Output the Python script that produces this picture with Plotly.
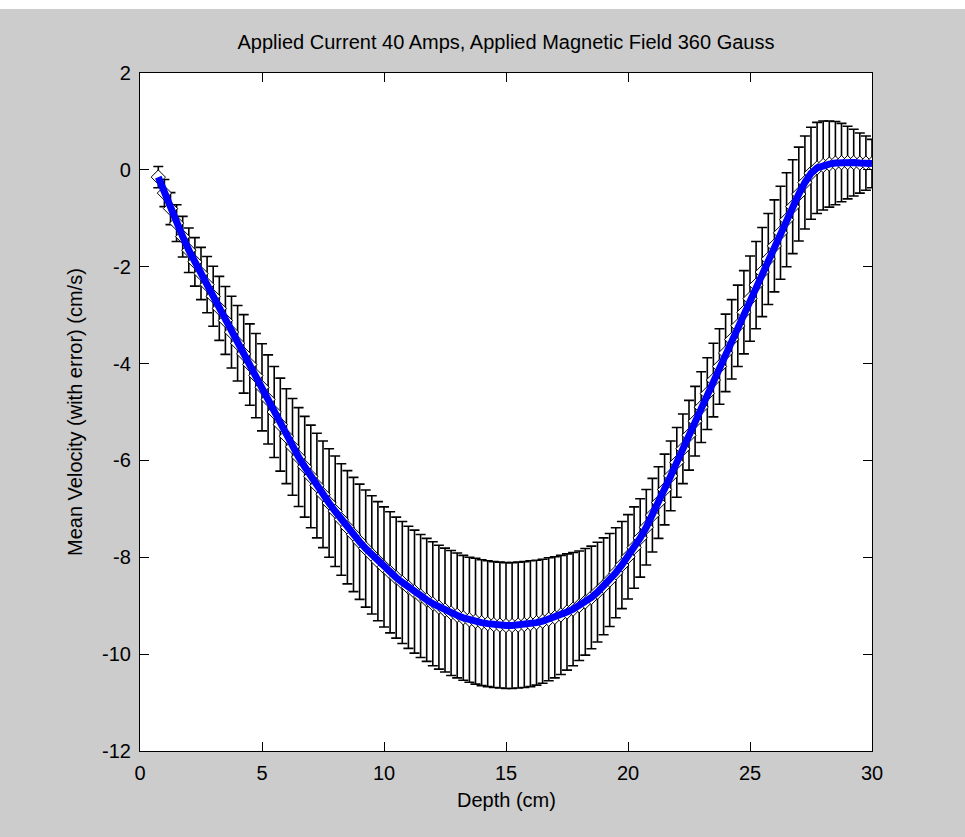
import plotly.graph_objects as go

depth = [0.75,
    1.00, 1.25, 1.50, 1.75, 2.00, 2.25, 2.50, 2.75, 3.00, 3.25, 3.50, 3.75,
    4.00, 4.25, 4.50, 4.75, 5.00, 5.25, 5.50, 5.75, 6.00, 6.25, 6.50, 6.75,
    7.00, 7.25, 7.50, 7.75, 8.00, 8.25, 8.50, 8.75, 9.00, 9.25, 9.50, 9.75,
    10.00, 10.25, 10.50, 10.75, 11.00, 11.25, 11.50, 11.75, 12.00, 12.25, 12.50, 12.75,
    13.00, 13.25, 13.50, 13.75, 14.00, 14.25, 14.50, 14.75, 15.00, 15.25, 15.50, 15.75,
    16.00, 16.25, 16.50, 16.75, 17.00, 17.25, 17.50, 17.75, 18.00, 18.25, 18.50, 18.75,
    19.00, 19.25, 19.50, 19.75, 20.00, 20.25, 20.50, 20.75, 21.00, 21.25, 21.50, 21.75,
    22.00, 22.25, 22.50, 22.75, 23.00, 23.25, 23.50, 23.75, 24.00, 24.25, 24.50, 24.75,
    25.00, 25.25, 25.50, 25.75, 26.00, 26.25, 26.50, 26.75, 27.00, 27.25, 27.50, 27.75,
    28.00, 28.25, 28.50, 28.75, 29.00, 29.25, 29.50, 29.75, 30.00]

mean_velocity = [-0.15,
    -0.48, -0.80, -1.10, -1.38, -1.66, -1.90, -2.14, -2.37, -2.61, -2.86, -3.11, -3.35,
    -3.58, -3.80, -4.02, -4.25, -4.49, -4.74, -5.00, -5.26, -5.50, -5.72, -5.93, -6.13,
    -6.33, -6.52, -6.70, -6.88, -7.05, -7.22, -7.38, -7.53, -7.68, -7.82, -7.95, -8.08,
    -8.20, -8.31, -8.42, -8.52, -8.62, -8.71, -8.80, -8.88, -8.96, -9.03, -9.09, -9.15,
    -9.20, -9.25, -9.29, -9.32, -9.35, -9.37, -9.39, -9.40, -9.41, -9.41, -9.40, -9.39,
    -9.37, -9.35, -9.32, -9.28, -9.24, -9.19, -9.13, -9.07, -9.00, -8.92, -8.83, -8.72,
    -8.60, -8.47, -8.32, -8.16, -7.99, -7.80, -7.60, -7.38, -7.13, -6.87, -6.60, -6.32,
    -6.04, -5.76, -5.48, -5.19, -4.90, -4.62, -4.34, -4.06, -3.78, -3.50, -3.22, -2.94,
    -2.66, -2.38, -2.11, -1.84, -1.57, -1.30, -1.03, -0.76, -0.50, -0.26, -0.07, 0.04,
    0.09, 0.12, 0.14, 0.15, 0.15, 0.15, 0.14, 0.14, 0.13]

velocity_error = [0.22,
    0.28, 0.33, 0.38, 0.42, 0.46, 0.50, 0.54, 0.58, 0.62, 0.66, 0.70, 0.74,
    0.78, 0.81, 0.84, 0.87, 0.90, 0.92, 0.94, 0.96, 0.98, 1.00, 1.02, 1.04,
    1.06, 1.08, 1.10, 1.12, 1.14, 1.15, 1.17, 1.18, 1.19, 1.21, 1.22, 1.23,
    1.24, 1.25, 1.25, 1.26, 1.26, 1.27, 1.27, 1.27, 1.28, 1.28, 1.28, 1.29,
    1.29, 1.29, 1.29, 1.30, 1.30, 1.30, 1.30, 1.30, 1.30, 1.30, 1.30, 1.30,
    1.30, 1.29, 1.28, 1.27, 1.25, 1.23, 1.20, 1.17, 1.13, 1.10, 1.06, 1.03,
    1.00, 0.96, 0.93, 0.90, 0.87, 0.84, 0.81, 0.78, 0.76, 0.74, 0.73, 0.72,
    0.72, 0.72, 0.72, 0.72, 0.73, 0.74, 0.76, 0.78, 0.80, 0.82, 0.84, 0.86,
    0.88, 0.90, 0.92, 0.94, 0.95, 0.96, 0.97, 0.97, 0.97, 0.96, 0.95, 0.94,
    0.92, 0.89, 0.86, 0.81, 0.75, 0.69, 0.62, 0.56, 0.50]

x_ticks = [0, 5, 10, 15, 20, 25, 30]
x_tick_labels = ["0", "5", "10", "15", "20", "25", "30"]
y_ticks = [2, 0, -2, -4, -6, -8, -10, -12]
y_tick_labels = ["2", "0", "-2", "-4", "-6", "-8", "-10", "-12"]

FONT = "Liberation Sans, Arial, sans-serif"
FS = 20
GRAY = "#cccccc"

fig = go.Figure()

fig.add_trace(go.Scatter(
    x=depth, y=mean_velocity, mode="markers",
    marker=dict(symbol="diamond", size=11, color="white",
                line=dict(color="black", width=1)),
    error_y=dict(type="data", array=velocity_error, visible=True,
                 color="black", thickness=1.6, width=5),
    showlegend=False, hoverinfo="skip"))

fig.add_trace(go.Scatter(
    x=depth, y=mean_velocity, mode="lines",
    line=dict(color="#0000ff", width=7),
    showlegend=False))

axis_common = dict(
    showgrid=False, zeroline=False, showline=True, linecolor="black", linewidth=1.2,
    mirror="allticks", ticks="inside", ticklen=9, tickwidth=1, tickcolor="black",
    tickfont=dict(family=FONT, size=FS, color="black"),
)

fig.update_xaxes(range=[0, 30], tickvals=x_ticks, ticktext=x_tick_labels,
                 ticklabelstandoff=4, **axis_common)
fig.update_yaxes(range=[-12, 2], tickvals=y_ticks, ticktext=y_tick_labels,
                 ticklabelstandoff=4, **axis_common)

fig.update_layout(
    width=965, height=837,
    margin=dict(l=140, r=93, t=73, b=86),
    paper_bgcolor=GRAY, plot_bgcolor="white",
    font=dict(family=FONT, size=FS, color="black"),
    title=dict(text="Applied Current 40 Amps, Applied Magnetic Field 360 Gauss",
               x=0.5, xref="paper", xanchor="center",
               y=1 - 42 / 837, yref="container", yanchor="middle",
               font=dict(family=FONT, size=FS, color="black")),
    annotations=[
        dict(text="Depth (cm)", xref="paper", yref="paper", x=0.5,
             y=-(800 - 751) / 678, xanchor="center", yanchor="middle",
             showarrow=False, font=dict(family=FONT, size=FS, color="black")),
        dict(text="Mean Velocity (with error) (cm/s)", xref="paper", yref="paper",
             x=(75 - 140) / 732, y=0.5, xanchor="center", yanchor="middle",
             textangle=-90, showarrow=False,
             font=dict(family=FONT, size=FS, color="black")),
    ],
    shapes=[
        dict(type="rect", xref="paper", yref="paper", layer="below",
             x0=-140 / 732, x1=1 + 93 / 732, y0=1 + 64 / 678, y1=1 + 73 / 678,
             fillcolor="white", line=dict(width=0)),
    ],
)

fig.write_html("out.html")
